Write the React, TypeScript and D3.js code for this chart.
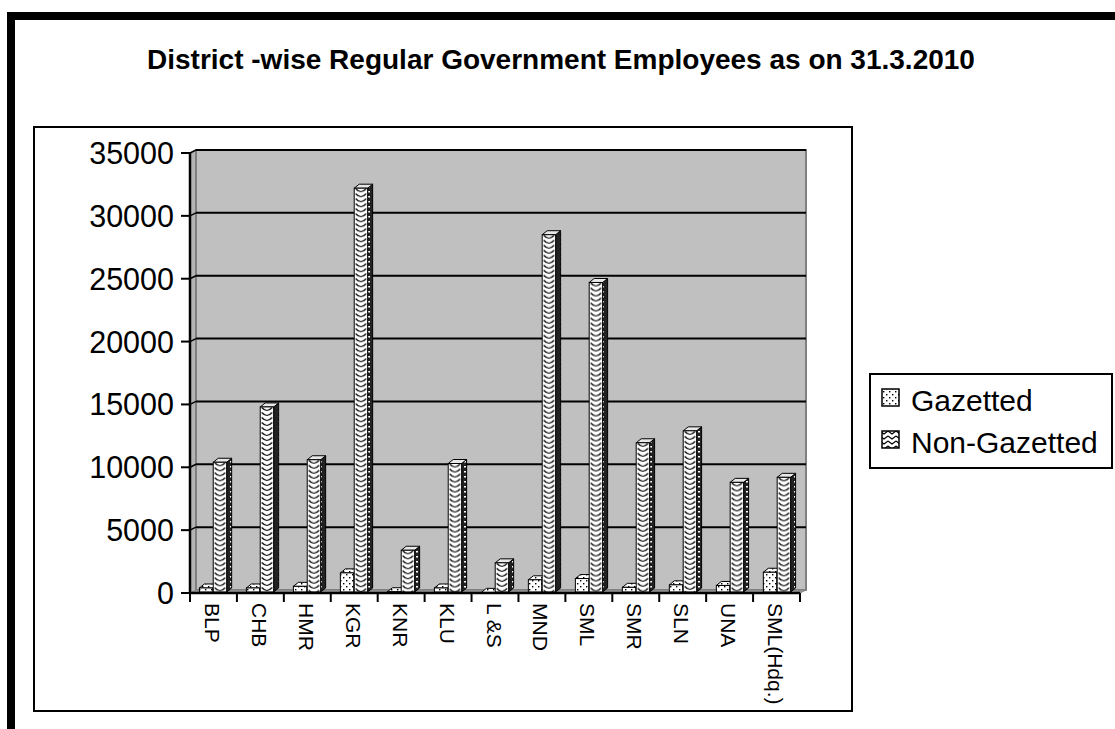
import * as d3 from "d3";

const categories = ["BLP", "CHB", "HMR", "KGR", "KNR", "KLU", "L &S", "MND", "SML", "SMR", "SLN", "UNA", "SML(Hdq.)"];
const series = ["Gazetted", "Non-Gazetted"];
const gazetted = [400, 400, 530, 1600, 100, 400, 50, 1050, 1150, 450, 650, 600, 1650];
const nonGazetted = [10400, 14800, 10600, 32200, 3400, 10300, 2400, 28500, 24700, 11950, 12900, 8800, 9200];
const yTicks = [0, 5000, 10000, 15000, 20000, 25000, 30000, 35000];

const WIDTH = 1115;
const HEIGHT = 729;
const PLOT = { left: 190, right: 800, top: 153, bottom: 593 };
const WALL = { dx: 6, dy: -3 }; // back wall offset (3d)
const DEPTH = { dx: 5, dy: -4 }; // bar depth
const FONT = "'Liberation Sans', Arial, sans-serif";

function App() {
  const y = d3.scaleLinear().domain([0, 35000]).range([PLOT.bottom, PLOT.top]);
  const x = d3
    .scaleBand()
    .domain(categories)
    .range([PLOT.left, PLOT.right])
    .paddingInner(0.42)
    .paddingOuter(0.2);
  const xs = d3.scaleBand().domain(series).range([0, x.bandwidth()]).paddingInner(0.03);
  const cats = d3.scaleBand().domain(categories).range([PLOT.left, PLOT.right]);
  const step = cats.step();

  const rows = categories.map((c, i) => ({ c, values: [gazetted[i], nonGazetted[i]] }));

  const patterns: JSX.Element[] = [];
  const bars = rows.flatMap((r, i) =>
    r.values.map((v, j) => {
      const s = series[j];
      const fx = (x(r.c) ?? 0) + (xs(s) ?? 0);
      const w = xs.bandwidth();
      const top = y(v);
      const base = y(0) - 1;
      let pat = "url(#dots)";
      if (j === 1) {
        // scallop pattern, one per bar so the curve fits its width
        const id = `ng${i}`;
        patterns.push(
          <pattern key={id} id={id} x={fx} y={top} width={w} height={5} patternUnits="userSpaceOnUse">
            <rect width={w} height={5} fill="white" />
            <path
              d={`M1.5,0.5 Q${w / 2},6.5 ${w - 1.5},0.5`}
              fill="none"
              stroke="black"
              strokeWidth={1.2}
            />
          </pattern>
        );
        pat = `url(#${id})`;
      }
      const side = `${fx + w},${top} ${fx + w + DEPTH.dx},${top + DEPTH.dy} ${fx + w + DEPTH.dx},${base + DEPTH.dy} ${fx + w},${base}`;
      const lid = `${fx},${top} ${fx + DEPTH.dx},${top + DEPTH.dy} ${fx + w + DEPTH.dx},${top + DEPTH.dy} ${fx + w},${top}`;
      return (
        <g key={`${i}-${j}`} stroke="black" strokeWidth={1}>
          <polygon points={side} fill="url(#sidefill)" />
          <polygon points={lid} fill={j === 1 ? "#e8e8e8" : "url(#dots)"} />
          <rect x={fx} y={top} width={w} height={base - top} fill={pat} />
        </g>
      );
    })
  );

  return (
    <svg
      width={WIDTH}
      height={HEIGHT}
      style={{ position: "absolute", left: 0, top: 0, background: "white" }}
      fontFamily={FONT}
    >
      <defs>
        <pattern id="dots" width={6} height={6} patternUnits="userSpaceOnUse">
          <rect width={6} height={6} fill="white" />
          <rect x={1} y={1} width={1.4} height={1.4} fill="black" />
          <rect x={4} y={4} width={1.4} height={1.4} fill="black" />
        </pattern>
        <pattern id="sidefill" width={6} height={5} patternUnits="userSpaceOnUse">
          <rect width={6} height={5} fill="#222" />
          <rect x={2} y={1} width={2} height={1.5} fill="white" />
        </pattern>
        <pattern id="zigzag" width={8} height={5} patternUnits="userSpaceOnUse">
          <rect width={8} height={5} fill="white" />
          <path d="M0,1 L4,4 L8,1" fill="none" stroke="black" strokeWidth={1.1} />
        </pattern>
        {patterns}
      </defs>

      {/* outer frame, runs past the page edge */}
      <rect x={11} y={16} width={1200} height={800} fill="none" stroke="black" strokeWidth={8} />

      <text x={561} y={69} textAnchor="middle" fontSize={28} fontWeight="bold">
        District -wise Regular Government Employees as on 31.3.2010
      </text>

      {/* chart box */}
      <rect x={34} y={127} width={818} height={584} fill="white" stroke="black" strokeWidth={2} />

      {/* walls */}
      <polygon
        points={`${PLOT.left},${PLOT.top} ${PLOT.left + WALL.dx},${PLOT.top + WALL.dy} ${PLOT.left + WALL.dx},${PLOT.bottom + WALL.dy} ${PLOT.left},${PLOT.bottom}`}
        fill="#b4b4b4"
      />
      <rect
        x={PLOT.left + WALL.dx}
        y={PLOT.top + WALL.dy}
        width={PLOT.right - PLOT.left}
        height={PLOT.bottom - PLOT.top}
        fill="#c0c0c0"
        stroke="#808080"
        strokeWidth={2}
      />
      <polygon
        points={`${PLOT.left},${PLOT.bottom} ${PLOT.left + WALL.dx},${PLOT.bottom + WALL.dy} ${PLOT.right + WALL.dx},${PLOT.bottom + WALL.dy} ${PLOT.right},${PLOT.bottom}`}
        fill="#999"
        stroke="#808080"
        strokeWidth={1}
      />

      {/* gridlines on back wall */}
      {yTicks.slice(1).map((t) => (
        <g key={t} stroke="black" strokeWidth={2}>
          <line x1={PLOT.left + WALL.dx} x2={PLOT.right + WALL.dx} y1={y(t) + WALL.dy} y2={y(t) + WALL.dy} />
          <line x1={PLOT.left} x2={PLOT.left + WALL.dx} y1={y(t)} y2={y(t) + WALL.dy} strokeWidth={1.5} />
        </g>
      ))}

      {bars}

      {/* y axis */}
      <line x1={PLOT.left} x2={PLOT.left} y1={PLOT.top} y2={PLOT.bottom} stroke="black" strokeWidth={2.5} />
      {yTicks.map((t) => (
        <g key={t}>
          <line x1={PLOT.left - 9} x2={PLOT.left} y1={y(t)} y2={y(t)} stroke="black" strokeWidth={2} />
          <text x={PLOT.left - 16} y={y(t)} textAnchor="end" dominantBaseline="central" fontSize={30.5}>
            {t}
          </text>
        </g>
      ))}

      {/* x axis */}
      <line x1={PLOT.left} x2={PLOT.right} y1={PLOT.bottom} y2={PLOT.bottom} stroke="black" strokeWidth={2.5} />
      {[...categories.map((c) => cats(c) ?? 0), PLOT.right].map((tx, i) => (
        <line key={i} x1={tx} x2={tx} y1={PLOT.bottom} y2={PLOT.bottom + 9} stroke="black" strokeWidth={2} />
      ))}
      {categories.map((c) => (
        <text
          key={c}
          transform={`translate(${(cats(c) ?? 0) + step / 2 - 1},${PLOT.bottom + 10}) rotate(90)`}
          dominantBaseline="central"
          fontSize={21}
        >
          {c}
        </text>
      ))}

      {/* legend */}
      <rect x={870} y={374} width={242} height={94} fill="white" stroke="black" strokeWidth={2} />
      {[
        { s: series[0], fill: "url(#dots)" },
        { s: series[1], fill: "url(#zigzag)" },
      ].map((d, i) => (
        <g key={d.s}>
          <rect x={882} y={389 + i * 42} width={17} height={17} fill={d.fill} stroke="black" strokeWidth={1.5} />
          <text x={911} y={411 + i * 42} fontSize={30}>
            {d.s}
          </text>
        </g>
      ))}
    </svg>
  );
}

export default App;
